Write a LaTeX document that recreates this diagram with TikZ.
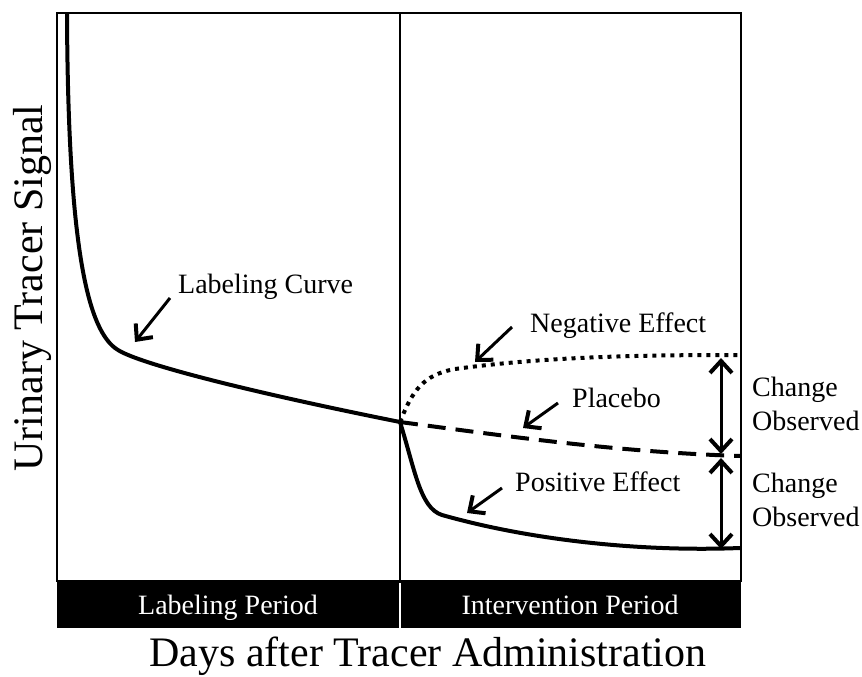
\documentclass[tikz,border=0pt]{standalone}
\usepackage{fontspec}
\setmainfont{Liberation Serif}
\usetikzlibrary{arrows.meta}
\begin{document}
\begin{tikzpicture}[x=1pt,y=-1pt,
  curve/.style={line width=4pt},
  tipv/.tip={Straight Barb[length=12pt,width=22pt,line width=4pt]},
  ann/.style={line width=3pt,-tipv},
  dbl/.style={line width=3pt,tipv-tipv},
  lbl/.style={font=\fontsize{28}{34}\selectfont, inner sep=0pt},
  big/.style={font=\fontsize{42}{48}\selectfont, inner sep=0pt}]
\useasboundingbox (0,0) rectangle (862,677);
% frame and period bar
\draw[line width=2.5pt] (57,13) rectangle (741,581);
\draw[line width=2pt] (400,13) -- (400,581);
\fill[black] (57,581) rectangle (741,628);
\draw[white, line width=1.5pt] (400,583) -- (400,628);
\node[lbl, white, anchor=base] (lp) at (228,614) {Labeling Period};
\node[lbl, white, anchor=base] (ip) at (570,614) {Intervention Period};
% axis titles
\node[big, anchor=base] (xt) at (428,666) {Days after Tracer Administration};
\node[big, anchor=base, rotate=90] (yt) at (42,288) {Urinary Tracer Signal};
% curve points
\coordinate (top) at (67,14);
\coordinate (knee) at (118,350);
\coordinate (split) at (400,422);
\coordinate (negend) at (740,355);
\coordinate (plaend) at (740,456);
\coordinate (posend) at (740,548);
% curves
\draw[curve] (top) .. controls (68,250) and (88,332) .. (knee)
  .. controls (140,364) and (250,392) .. (split);
\draw[curve, dash pattern=on 4pt off 5pt] (split) .. controls (412,392) and (422,375) .. (455,369)
  .. controls (550,356) and (650,355) .. (negend);
\draw[curve, dash pattern=on 18pt off 10pt] (split) .. controls (520,438) and (620,452) .. (plaend);
\draw[curve] (split) .. controls (415,470) and (420,508) .. (442,515)
  .. controls (530,540) and (640,552) .. (posend);
% labels
\node[lbl, anchor=base west] (lc) at (178,293) {Labeling Curve};
\node[lbl, anchor=base west] (ne) at (530,332) {Negative Effect};
\node[lbl, anchor=base west] (pl) at (572,407) {Placebo};
\node[lbl, anchor=base west] (pe) at (515,491) {Positive Effect};
\node[lbl, anchor=west, align=left] (co1) at (752,404) {Change\\Observed};
\node[lbl, anchor=west, align=left] (co2) at (752,500) {Change\\Observed};
% annotation arrows
\coordinate (lcT) at (170,298); \coordinate (lcH) at (135,342);
\coordinate (neT) at (512,327); \coordinate (neH) at (475,362);
\coordinate (plT) at (558,403); \coordinate (plH) at (523,428);
\coordinate (peT) at (502,488); \coordinate (peH) at (467,513);
\draw[ann] (lcT) -- (lcH);
\draw[ann] (neT) -- (neH);
\draw[ann] (plT) -- (plH);
\draw[ann] (peT) -- (peH);
% change arrows
\coordinate (d1a) at (721,358); \coordinate (d1b) at (721,454);
\coordinate (d2a) at (721,458); \coordinate (d2b) at (721,549);
\draw[dbl] (d1a) -- (d1b);
\draw[dbl] (d2a) -- (d2b);
\end{tikzpicture}
\end{document}
